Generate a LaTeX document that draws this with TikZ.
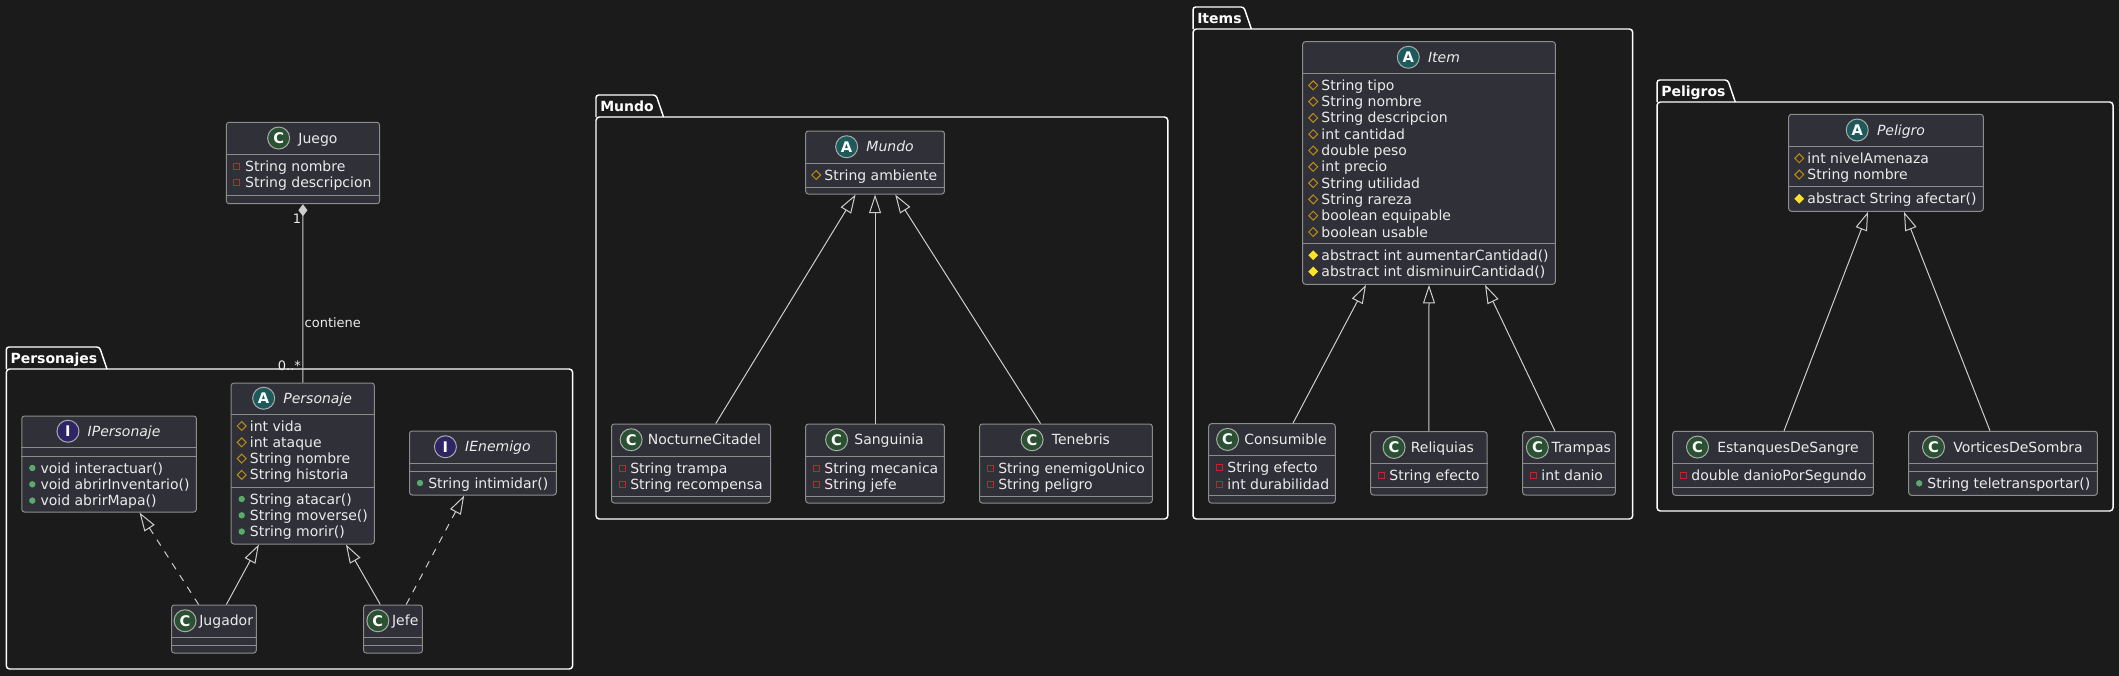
\documentclass[tikz,border=0pt]{standalone}
\usepackage{fontspec}
\setmainfont{DejaVu Sans}
\usetikzlibrary{arrows.meta,shapes.geometric,fit,calc}

\definecolor{bgdark}{RGB}{27,27,27}
\definecolor{boxfill}{RGB}{48,48,56}
\definecolor{boxline}{RGB}{140,140,140}
\definecolor{linegray}{RGB}{205,205,205}
\definecolor{txtlight}{RGB}{235,235,235}
\definecolor{iconring}{RGB}{170,170,170}
\definecolor{colClass}{RGB}{42,82,50}
\definecolor{colAbstract}{RGB}{28,90,92}
\definecolor{colIface}{RGB}{46,36,102}
\definecolor{colPrivate}{RGB}{200,35,45}
\definecolor{colProtected}{RGB}{190,140,20}
\definecolor{colPublic}{RGB}{90,170,110}
\definecolor{colAbsMethod}{RGB}{255,225,40}

% header of a class: [gap] node, icon letter, separator y, name
\newcommand{\classhead}[5][8]{%
  \pgfmathsetmacro{\gp}{#1*0.75}
  \pgfmathsetmacro{\hoff}{(22+#1)/2}
  \draw[sepline] (#2.west |- 0,#4) -- (#2.east |- 0,#4);
  \node[cname, label={[icon#3, label distance=\gp pt]left:#3}]
    at ($(#2.north)!0.5!(#2.north |- 0,#4)+(\hoff,0)$) {#5};}
% line between two compartments
\newcommand{\compsep}[2]{\draw[sepline] (#1.west |- 0,#2) -- (#1.east |- 0,#2);}
% members: node, separator y, list of vis/text
\newcommand{\members}[3]{%
  \foreach \vis/\txt [count=\row from 0] in {#3} {
    \pgfmathsetmacro{\yy}{#2+17+16.3*\row}
    \node[\vis] at ($(#1.west |- 0,\yy)+(11,-5)$) {};
    \node[member] at ($(#1.west |- 0,\yy)+(19,0)$) {\txt};
  }}
% package frame with its tab: name, x1, y1, x2, y2, title
\newcommand{\umlpackage}[6]{%
  \pgfmathsetmacro{\tabtop}{#3-22}
  \node[pkgtitle] (#1) at (#2+4,#3-11) {#6};
  \draw[pkgline, rounded corners=2pt] (#2,#3) -- (#2,\tabtop)
    -- ($(#1.east |- 0,\tabtop)+(2,0)$) -- ($(#1.east |- 0,#3)+(9.5,0)$);
  \draw[pkgline, rounded corners=2.5pt] (#2,#3) rectangle (#4,#5);}

\begin{document}
\begin{tikzpicture}[x=0.75pt, y=-0.75pt,
    every node/.style={font=\fontsize{10.5}{12.6}\selectfont, text=txtlight},
    classbox/.style={draw=boxline, fill=boxfill, line width=0.75pt, rounded corners=2pt, inner sep=0pt},
    sepline/.style={draw=boxline, line width=0.75pt},
    cname/.style={inner sep=0pt, text height=7.7pt, text depth=0pt},
    member/.style={inner sep=0pt, anchor=base west},
    pkgtitle/.style={anchor=west, inner sep=0pt, text height=7.7pt, text depth=0pt, text=white,
      font=\bfseries\fontsize{10.5}{12.6}\selectfont},
    pkgline/.style={draw=white, line width=1.1pt},
    elabel/.style={inner sep=1pt, font=\fontsize{9.75}{11}\selectfont},
    icon/.style={circle, draw=iconring, line width=0.75pt, minimum size=16.5pt, inner sep=0pt,
      text=white, font=\bfseries\fontsize{11}{11}\selectfont},
    iconC/.style={icon, fill=colClass},
    iconA/.style={icon, fill=colAbstract},
    iconI/.style={icon, fill=colIface},
    vispri/.style={rectangle, draw=colPrivate, line width=0.75pt, minimum size=4.5pt, inner sep=0pt},
    vispro/.style={diamond, draw=colProtected, line width=0.75pt, minimum size=7pt, inner sep=0pt},
    vispub/.style={circle, fill=colPublic, minimum size=4.8pt, inner sep=0pt},
    visabs/.style={diamond, fill=colAbsMethod, minimum size=7.5pt, inner sep=0pt},
    realization/.style={dash pattern=on 5.25pt off 5.25pt}]

    \useasboundingbox (0,0) rectangle (2119,675);
    \fill[bgdark] (-6,-6) rectangle (2125,681);

    % packages
    \umlpackage{pkgPersonajes}{6.3}{369}{572.6}{669}{Personajes}
    \umlpackage{pkgMundo}{596}{117}{1167.8}{519}{Mundo}
    \umlpackage{pkgItems}{1193}{29}{1632.7}{519}{Items}
    \umlpackage{pkgPeligros}{1657}{102}{2113}{511}{Peligros}

    % class boxes, use the two corners for location
    \node[classbox, fit={(226.4,122.3) (379.5,203.7)}] (Juego) {};
    \node[classbox, fit={(231.2,383) (374.3,544)}] (Personaje) {};
    \node[classbox, fit={(21.8,416) (196.4,512)}] (IPersonaje) {};
    \node[classbox, fit={(409.5,431) (556.3,495)}] (IEnemigo) {};
    \node[classbox, fit={(171.6,605) (256.3,653)}] (Jugador) {};
    \node[classbox, fit={(363.6,605) (422.4,653)}] (Jefe) {};
    \node[classbox, fit={(805.7,131) (944.4,194)}] (Mundo) {};
    \node[classbox, fit={(611.5,424) (770.5,503)}] (NocturneCitadel) {};
    \node[classbox, fit={(805.7,424) (944.4,503)}] (Sanguinia) {};
    \node[classbox, fit={(979.5,424) (1152.3,503)}] (Tenebris) {};
    \node[classbox, fit={(1302.7,41.7) (1555.3,284.3)}] (Item) {};
    \node[classbox, fit={(1208.7,423.7) (1335.3,503)}] (Consumible) {};
    \node[classbox, fit={(1370.7,431.7) (1487,495)}] (Reliquias) {};
    \node[classbox, fit={(1522.7,431.7) (1615.3,495)}] (Trampas) {};
    \node[classbox, fit={(1788.7,114.3) (1983.3,211.3)}] (Peligro) {};
    \node[classbox, fit={(1672.7,431.3) (1873.3,495.3)}] (EstanquesDeSangre) {};
    \node[classbox, fit={(1908.7,431.3) (2097.3,495.3)}] (VorticesDeSombra) {};

    % headers
    \classhead{Juego}{C}{154.3}{Juego}
    \classhead{Personaje}{A}{414}{\itshape Personaje}
    \classhead{IPersonaje}{I}{447}{\itshape IPersonaje}
    \classhead{IEnemigo}{I}{463}{\itshape IEnemigo}
    \classhead[2.5]{Jugador}{C}{637}{Jugador}
    \classhead[2.5]{Jefe}{C}{637}{Jefe}
    \classhead{Mundo}{A}{163}{\itshape Mundo}
    \classhead[5]{NocturneCitadel}{C}{456}{NocturneCitadel}
    \classhead[6]{Sanguinia}{C}{456}{Sanguinia}
    \classhead{Tenebris}{C}{456}{Tenebris}
    \classhead{Item}{A}{73.3}{\itshape Item}
    \classhead[5]{Consumible}{C}{455.7}{Consumible}
    \classhead[5]{Reliquias}{C}{463.7}{Reliquias}
    \classhead[2.5]{Trampas}{C}{463.7}{Trampas}
    \classhead{Peligro}{A}{146.3}{\itshape Peligro}
    \classhead{EstanquesDeSangre}{C}{463.3}{EstanquesDeSangre}
    \classhead{VorticesDeSombra}{C}{463.3}{VorticesDeSombra}

    % compartments
    \compsep{Juego}{195.3}
    \compsep{Personaje}{487}
    \compsep{IPersonaje}{456}
    \compsep{IEnemigo}{471}
    \compsep{Jugador}{645}
    \compsep{Jefe}{645}
    \compsep{Mundo}{187}
    \compsep{NocturneCitadel}{496}
    \compsep{Sanguinia}{496}
    \compsep{Tenebris}{496}
    \compsep{Item}{243.3}
    \compsep{Consumible}{495.7}
    \compsep{Reliquias}{487.7}
    \compsep{Trampas}{487.7}
    \compsep{Peligro}{186.7}
    \compsep{EstanquesDeSangre}{487.3}
    \compsep{VorticesDeSombra}{471.3}

    % members
    \members{Juego}{154.3}{vispri/String nombre, vispri/String descripcion}
    \members{Personaje}{414}{vispro/int vida, vispro/int ataque, vispro/String nombre, vispro/String historia}
    \members{Personaje}{487}{vispub/String atacar(), vispub/String moverse(), vispub/String morir()}
    \members{IPersonaje}{456}{vispub/void interactuar(), vispub/void abrirInventario(), vispub/void abrirMapa()}
    \members{IEnemigo}{471}{vispub/String intimidar()}
    \members{Mundo}{163}{vispro/String ambiente}
    \members{NocturneCitadel}{456}{vispri/String trampa, vispri/String recompensa}
    \members{Sanguinia}{456}{vispri/String mecanica, vispri/String jefe}
    \members{Tenebris}{456}{vispri/String enemigoUnico, vispri/String peligro}
    \members{Item}{73.3}{vispro/String tipo, vispro/String nombre, vispro/String descripcion,
      vispro/int cantidad, vispro/double peso, vispro/int precio, vispro/String utilidad,
      vispro/String rareza, vispro/boolean equipable, vispro/boolean usable}
    \members{Item}{243.3}{visabs/abstract int aumentarCantidad(), visabs/abstract int disminuirCantidad()}
    \members{Consumible}{455.7}{vispri/String efecto, vispri/int durabilidad}
    \members{Reliquias}{463.7}{vispri/String efecto}
    \members{Trampas}{463.7}{vispri/int danio}
    \members{Peligro}{146.3}{vispro/int nivelAmenaza, vispro/String nombre}
    \members{Peligro}{186.7}{visabs/abstract String afectar()}
    \members{EstanquesDeSangre}{463.3}{vispri/double danioPorSegundo}
    \members{VorticesDeSombra}{471.3}{vispub/String teletransportar()}

    % composition
    \draw[linegray, line width=0.75pt, {Diamond[length=9pt, width=6.75pt, fill=linegray]}-]
      (Juego.south) -- node[elabel, anchor=west, pos=0.665] {contiene}
      node[elabel, anchor=east, pos=0, yshift=-11.25pt] {1}
      node[elabel, anchor=east, pos=1, yshift=12.75pt] {0..*} (Personaje.north);

    % inheritance and realization
    \begin{scope}[>={Triangle[open, length=14pt, width=9pt]},
                  every edge/.style={draw=linegray, line width=0.75pt}]
    \path [->] (Jugador.north -| 198.6,0) edge[realization] (IPersonaje.south -| 139.5,0);
    \path [->] (Jugador.north -| 226.4,0) edge (Personaje.south -| 258.9,0);
    \path [->] (Jefe.north -| 380.3,0) edge (Personaje.south -| 345.9,0);
    \path [->] (Jefe.north -| 406.2,0) edge[realization] (IEnemigo.south -| 464.2,0);

    \path [->] (NocturneCitadel.north -| 715.8,0) edge (Mundo.south -| 855.6,0);
    \path [->] (Sanguinia.north) edge (Mundo.south);
    \path [->] (Tenebris.north -| 1040.5,0) edge (Mundo.south -| 895.2,0);

    \path [->] (Consumible.north -| 1293,0) edge (Item.south -| 1366,0);
    \path [->] (Reliquias.north) edge (Item.south);
    \path [->] (Trampas.north -| 1555,0) edge (Item.south -| 1485,0);

    \path [->] (EstanquesDeSangre.north -| 1784,0) edge (Peligro.south -| 1868,0);
    \path [->] (VorticesDeSombra.north -| 1990,0) edge (Peligro.south -| 1904,0);
    \end{scope}

\end{tikzpicture}
\end{document}
